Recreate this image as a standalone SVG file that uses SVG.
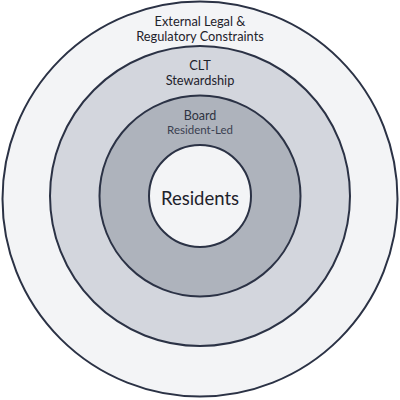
<svg xmlns="http://www.w3.org/2000/svg" width="400" height="400" viewBox="0 0 400 400">
<style>
.ring{stroke:#2b3245;stroke-width:2}
.t{font-family:Lato,"Liberation Sans",sans-serif;text-anchor:middle;fill:#1e222b}
</style>
<rect width="400" height="400" fill="#ffffff"/>
<g id="external">
<circle class="ring" cx="200" cy="199" r="197.5" fill="#f3f4f6"/>
<text class="t" x="200" y="26" font-size="12.8">External Legal &amp;</text>
<text class="t" x="200" y="41" font-size="12.8">Regulatory Constraints</text>
</g>
<g id="clt">
<circle class="ring" cx="200" cy="196" r="150" fill="#d3d6dd"/>
<text class="t" x="200" y="70" font-size="12.8">CLT</text>
<text class="t" x="200" y="85" font-size="12.8">Stewardship</text>
</g>
<g id="board">
<circle class="ring" cx="200" cy="196" r="100.5" fill="#aeb3bc"/>
<text class="t" x="200" y="120" font-size="12.5" style="fill:#2f3442">Board</text>
<text class="t" x="200" y="134" font-size="11.5" style="fill:#3a4050">Resident-Led</text>
</g>
<g id="residents">
<circle class="ring" cx="200" cy="196" r="51" fill="#f3f4f6"/>
<text class="t" x="200" y="205" font-size="18.5">Residents</text>
</g>
<g id="connectors"/>
</svg>
